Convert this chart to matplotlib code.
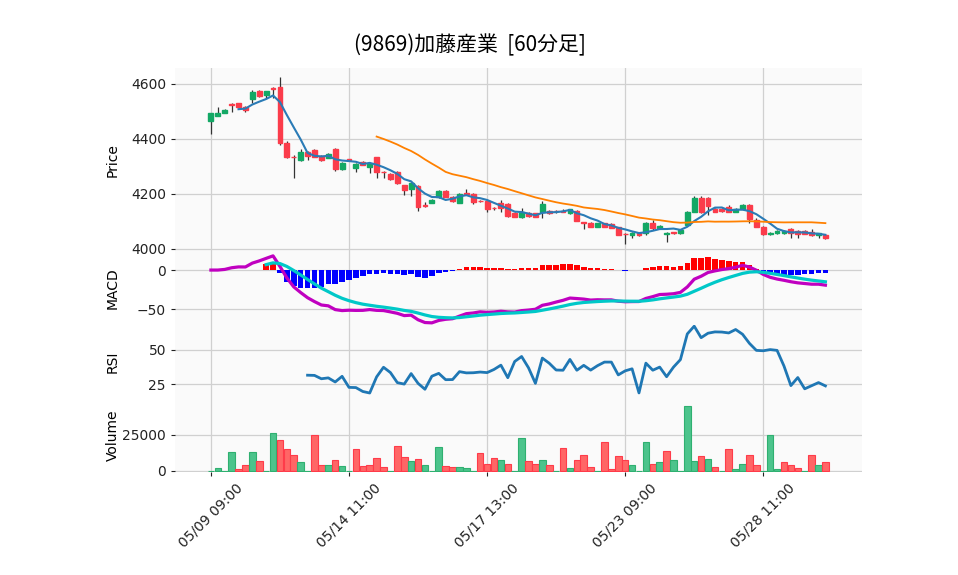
import numpy as np
import pandas as pd
import matplotlib
matplotlib.use("Agg")
import matplotlib.pyplot as plt
from matplotlib.patches import Rectangle

title = "(9869)加藤産業  [60分足]"
tick_labels = ["05/09 09:00", "05/14 11:00", "05/17 13:00", "05/23 09:00", "05/28 11:00"]
tick_index = [0, 20, 40, 60, 80]

opens = [4464,4484,4496,4527,4530,4516,4547,4575,4560,4585,4588,4386,4336,4323,4353,4361,4337,4331,4365,4290,
         4326,4294,4316,4299,4333,4281,4274,4281,4231,4217,4229,4160,4168,4189,4211,4190,4168,4202,4201,4175,
         4175,4149,4168,4164,4132,4118,4132,4130,4136,4138,4138,4136,4130,4138,4096,4096,4081,4093,4091,4079,
         4055,4051,4057,4057,4096,4075,4056,4060,4057,4087,4136,4187,4184,4146,4146,4154,4136,4146,4160,4105,
         4081,4053,4057,4057,4072,4067,4064,4063,4051,4051]
closes = [4496,4496,4506,4525,4518,4507,4570,4558,4573,4583,4386,4335,4334,4353,4337,4335,4323,4346,4290,4314,
          4325,4310,4306,4310,4281,4280,4254,4240,4214,4241,4154,4158,4178,4211,4190,4176,4201,4200,4172,4174,
          4144,4148,4148,4121,4118,4136,4120,4118,4164,4130,4137,4135,4144,4103,4095,4081,4093,4081,4078,4051,
          4053,4057,4050,4093,4078,4084,4058,4058,4069,4135,4187,4136,4158,4136,4137,4136,4146,4160,4109,4081,
          4053,4059,4066,4066,4057,4055,4056,4051,4057,4039]
highs = [4496,4518,4508,4530,4532,4520,4578,4578,4575,4588,4626,4392,4340,4364,4355,4364,4340,4350,4368,4316,
         4328,4312,4320,4312,4335,4284,4276,4284,4233,4244,4231,4170,4180,4214,4213,4193,4203,4217,4204,4178,
         4178,4154,4178,4167,4134,4148,4134,4132,4174,4142,4143,4147,4146,4140,4098,4098,4095,4095,4093,4081,
         4057,4062,4059,4099,4106,4086,4060,4062,4072,4138,4193,4193,4190,4150,4148,4160,4148,4164,4164,4111,
         4083,4061,4068,4068,4075,4069,4068,4072,4059,4053]
lows = [4419,4482,4494,4498,4516,4498,4530,4553,4550,4548,4378,4330,4259,4321,4323,4333,4320,4329,4283,4288,
        4322,4280,4304,4278,4258,4258,4252,4236,4195,4193,4138,4152,4166,4187,4188,4172,4166,4198,4163,4171,
        4135,4143,4136,4117,4116,4112,4118,4116,4112,4128,4130,4133,4128,4101,4071,4079,4079,4079,4076,4049,
        4018,4040,4048,4050,4070,4073,4027,4054,4054,4085,4134,4130,4122,4134,4134,4134,4134,4144,4096,4079,
        4051,4051,4055,4055,4040,4040,4053,4048,4040,4037]
volumes = [0,1800,0,13400,1100,4500,13400,6600,0,26300,21600,15400,11400,5900,0,25000,4500,3900,7300,3200,
           0,15400,3200,3900,9300,2500,0,17500,10000,6600,8600,3900,0,16800,3200,2500,2500,1800,0,12700,
           5200,9300,7300,5200,0,22900,6600,5200,7300,4500,0,16100,1800,7900,11400,2500,0,20200,1100,10700,
           7300,3900,0,20200,5200,5900,14100,7300,0,45400,6600,10700,8600,2500,0,15400,1100,5200,11400,3900,
           0,25000,1100,5900,4500,1800,0,11400,3900,5900]
volume_up = [1,1,1,1,0,0,1,0,1,1,0,0,0,1,1,0,0,1,0,1,
             1,0,0,0,0,0,1,0,0,1,0,1,1,1,0,0,1,1,1,0,
             0,0,1,0,1,1,0,0,1,0,1,0,1,0,0,0,1,0,0,0,
             0,1,1,1,0,1,0,1,1,1,1,0,1,0,1,0,1,1,0,0,
             1,1,1,0,0,0,1,0,1,0]

o = np.array(opens, float); c = np.array(closes, float)
h = np.array(highs, float); l = np.array(lows, float)
v = np.array(volumes, float)
n = len(c)
x = np.arange(n)
cs = pd.Series(c)
ma5 = cs.rolling(5).mean()
ma25 = cs.rolling(25).mean()
macd = cs.ewm(span=12, adjust=False).mean() - cs.ewm(span=26, adjust=False).mean()
signal = macd.ewm(span=9, adjust=False).mean()
signal[:8] = np.nan
hist = macd - signal
d = cs.diff()
up = d.clip(lower=0).rolling(14).mean()
dn = (-d.clip(upper=0)).rolling(14).mean()
rsi = 100 - 100 / (1 + up / dn)

BG = "#fafafa"; GRID = "#d0d0d0"

fig = plt.figure(figsize=(9.58, 5.75), dpi=100)
W, H = 958, 575
L, R = 175, 862
def ax_at(top, bot):
    a = fig.add_axes([L / W, 1 - bot / H, (R - L) / W, (bot - top) / H])
    a.set_facecolor(BG)
    a.grid(True, color=GRID, linewidth=0.9)
    a.set_axisbelow(True)
    for s in a.spines.values():
        s.set_visible(False)
    a.set_xlim(-5.2, 94.3)
    a.set_xticks(tick_index)
    a.tick_params(axis="both", labelsize=10, colors="#222222", length=3)
    return a

axp = ax_at(68, 252)
axm = ax_at(252, 325)
axr = ax_at(325, 398)
axv = ax_at(398, 472)
for a in (axp, axm, axr):
    a.tick_params(axis="x", labelbottom=False, length=0)

gc, rc = "#13a865", "#fb3c4b"
bw = 0.7
for i in range(n):
    col = gc if c[i] >= o[i] else rc
    axp.vlines(x[i], l[i], h[i], color="#333333", linewidth=0.9, zorder=2)
    bot = min(o[i], c[i]); ht = max(abs(c[i] - o[i]), 1.5)
    axp.add_patch(Rectangle((x[i] - bw / 2, bot), bw, ht, facecolor=col, edgecolor=col, zorder=3))
axp.plot(x, ma5, color="#2a7bb6", linewidth=1.5, zorder=4)
axp.plot(x, ma25, color="#ff8000", linewidth=1.3, zorder=4)
axp.set_ylim(3989, 4658)
axp.set_yticks([4000, 4200, 4400, 4600])
axp.set_ylabel("Price", fontsize=10)

hcol = ["#ff0000" if hv >= 0 else "#0000ff" for hv in hist.fillna(0)]
axm.bar(x, hist, width=0.8, color=hcol, zorder=2)
axm.plot(x, macd, color="#c000c0", linewidth=2.3, zorder=3)
axm.plot(x, signal, color="#00c8c8", linewidth=2.3, zorder=3)
axm.set_ylim(-70, 23)
axm.set_yticks([-50, 0])
axm.set_yticklabels(["−50", "0"])
axm.set_ylabel("MACD", fontsize=10)

axr.plot(x, rsi, color="#1f77b4", linewidth=2, zorder=3)
axr.set_ylim(15, 68)
axr.set_yticks([25, 50])
axr.set_ylabel("RSI", fontsize=10)

vcol = ["#4cc48c" if u else "#ff6666" for u in volume_up]
vedge = ["#2fb070" if u else "#ff3b4a" for u in volume_up]
axv.bar(x, v, width=0.95, color=vcol, edgecolor=vedge, linewidth=0.8, zorder=2)
axv.set_ylim(-700, 50700)
axv.set_yticks([0, 25000])
axv.set_ylabel("Volume", fontsize=10)
axv.set_xticklabels(tick_labels, rotation=45, ha="center", fontsize=10)

for a in (axp, axm, axr, axv):
    a.yaxis.set_label_coords(-0.08, 0.5)

fig.text(470 / W, 1 - 45 / H, title, ha="center", va="center", fontsize=15,
         fontfamily="Noto Sans CJK JP")
fig.savefig("out.png", dpi=100, facecolor="white")
